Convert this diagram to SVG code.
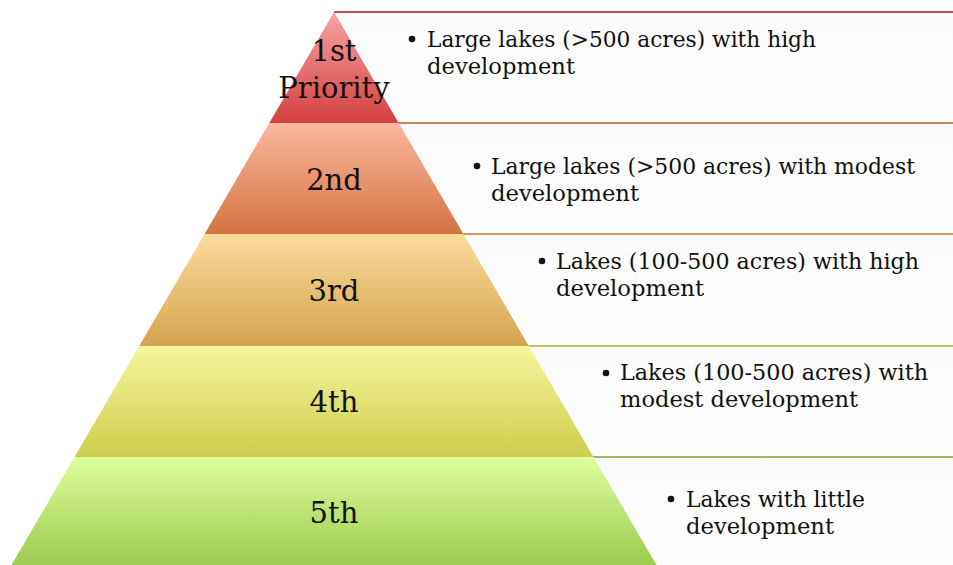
<svg xmlns="http://www.w3.org/2000/svg" width="953" height="565" viewBox="0 0 953 565">
<defs>
<linearGradient id="gBox" x1="0" y1="0" x2="0" y2="1"><stop offset="0" stop-color="#fafafa"/><stop offset="1" stop-color="#fdfdfd"/></linearGradient>
<linearGradient id="g1" x1="0" y1="0" x2="0" y2="1"><stop offset="0" stop-color="#f9a3a3"/><stop offset="1" stop-color="#d2403f"/></linearGradient>
<linearGradient id="g2" x1="0" y1="0" x2="0" y2="1"><stop offset="0" stop-color="#fbb7a0"/><stop offset="1" stop-color="#d47440"/></linearGradient>
<linearGradient id="g3" x1="0" y1="0" x2="0" y2="1"><stop offset="0" stop-color="#fddc9c"/><stop offset="1" stop-color="#d3a44e"/></linearGradient>
<linearGradient id="g4" x1="0" y1="0" x2="0" y2="1"><stop offset="0" stop-color="#f6f69e"/><stop offset="1" stop-color="#cdcd4e"/></linearGradient>
<linearGradient id="g5" x1="0" y1="0" x2="0" y2="1"><stop offset="0" stop-color="#dcff9e"/><stop offset="1" stop-color="#9dca4f"/></linearGradient>
</defs>
<style>
.box{fill:url(#gBox);}
.t{font-family:"DejaVu Serif","Liberation Serif",serif;font-size:22.7px;fill:#111;}
.lbl{font-family:"DejaVu Serif","Liberation Serif",serif;font-size:29px;fill:#111;text-anchor:middle;}
.b{fill:#111;}
</style>
<g id="boxes">
<g id="box1"><rect class="box" x="334" y="12" width="619" height="111"/><line x1="334" y1="12" x2="953" y2="12" stroke="#c0504d" stroke-width="2"/>
<circle class="b" cx="412" cy="39" r="3.3"/><text class="t" x="427" y="47" textLength="389" lengthAdjust="spacingAndGlyphs">Large lakes (&gt;500 acres) with high</text><text class="t" x="427" y="74" textLength="148" lengthAdjust="spacingAndGlyphs">development</text></g>
<g id="box2"><rect class="box" x="398" y="123" width="555" height="111"/><line x1="398" y1="123" x2="953" y2="123" stroke="#c9805c" stroke-width="2"/>
<circle class="b" cx="477" cy="166" r="3.3"/><text class="t" x="491" y="174" textLength="424" lengthAdjust="spacingAndGlyphs">Large lakes (&gt;500 acres) with modest</text><text class="t" x="491" y="201" textLength="148" lengthAdjust="spacingAndGlyphs">development</text></g>
<g id="box3"><rect class="box" x="463" y="234" width="490" height="112"/><line x1="463" y1="234" x2="953" y2="234" stroke="#caa25a" stroke-width="2"/>
<circle class="b" cx="542" cy="261" r="3.3"/><text class="t" x="556" y="269" textLength="363" lengthAdjust="spacingAndGlyphs">Lakes (100-500 acres) with high</text><text class="t" x="556" y="296" textLength="148" lengthAdjust="spacingAndGlyphs">development</text></g>
<g id="box4"><rect class="box" x="528" y="346" width="425" height="111"/><line x1="528" y1="346" x2="953" y2="346" stroke="#c6c35a" stroke-width="2"/>
<circle class="b" cx="606" cy="373" r="3.3"/><text class="t" x="620" y="380" textLength="308" lengthAdjust="spacingAndGlyphs">Lakes (100-500 acres) with</text><text class="t" x="620" y="407" textLength="238" lengthAdjust="spacingAndGlyphs">modest development</text></g>
<g id="box5"><rect class="box" x="593" y="457" width="360" height="108"/><line x1="593" y1="457" x2="953" y2="457" stroke="#9bbb59" stroke-width="2"/>
<circle class="b" cx="671" cy="499" r="3.3"/><text class="t" x="686" y="507" textLength="179" lengthAdjust="spacingAndGlyphs">Lakes with little</text><text class="t" x="686" y="534" textLength="148" lengthAdjust="spacingAndGlyphs">development</text></g>
</g>
<g id="pyramid">
<g id="level1"><polygon points="334,12 398.7,123 269.3,123" fill="url(#g1)"/>
<text class="lbl" x="334" y="61">1st</text><text class="lbl" x="334" y="98">Priority</text></g>
<g id="level2"><polygon points="269.3,123 398.7,123 463.4,234 204.6,234" fill="url(#g2)"/><text class="lbl" x="334" y="190">2nd</text></g>
<g id="level3"><polygon points="204.6,234 463.4,234 528.8,346 139.2,346" fill="url(#g3)"/><text class="lbl" x="334" y="301">3rd</text></g>
<g id="level4"><polygon points="139.2,346 528.8,346 593.5,457 74.5,457" fill="url(#g4)"/><text class="lbl" x="334" y="412">4th</text></g>
<g id="level5"><polygon points="74.5,457 593.5,457 656.5,565 11.5,565" fill="url(#g5)"/><text class="lbl" x="334" y="523">5th</text></g>
</g>
</svg>
